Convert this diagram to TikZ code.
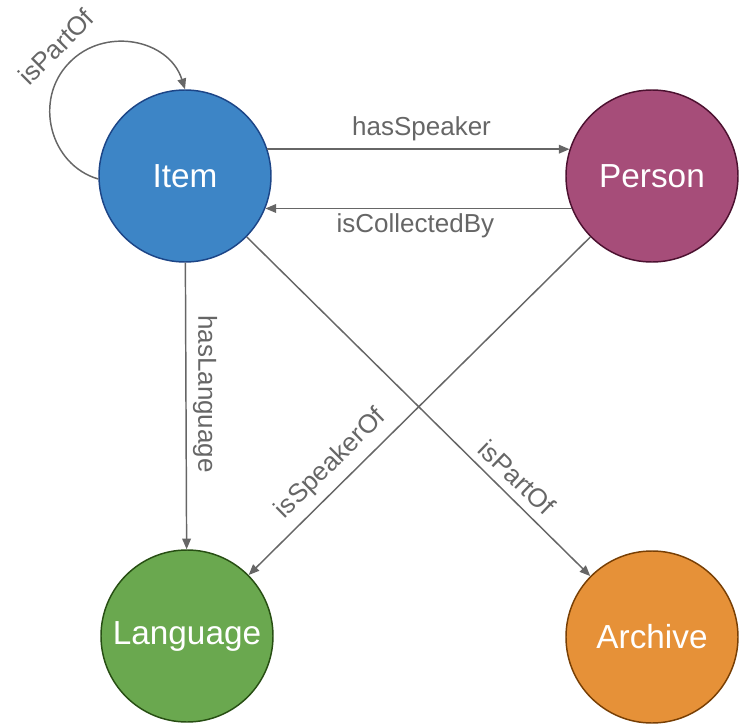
\documentclass[tikz,border=0pt]{standalone}
\usepackage{fontspec}
\setmainfont{Liberation Sans}
\usetikzlibrary{arrows.meta}

\definecolor{itemfill}{HTML}{3D85C6}
\definecolor{itemline}{HTML}{1C4587}
\definecolor{personfill}{HTML}{A64D79}
\definecolor{personline}{HTML}{4C1130}
\definecolor{langfill}{HTML}{6AA84F}
\definecolor{langline}{HTML}{274E13}
\definecolor{archfill}{HTML}{E69138}
\definecolor{archline}{HTML}{783F04}
\definecolor{relgrey}{HTML}{666666}

\tikzset{
  concept/.style={circle, draw, line width=1.1pt, minimum size=129pt, inner sep=0pt,
    text=white, font=\fontsize{25}{30}\selectfont},
  rel/.style={draw=relgrey, line width=1.1pt, -{Triangle[length=8pt,width=6.5pt]}},
  rellabel/.style={text=relgrey, font=\fontsize{19.5}{23}\selectfont, inner sep=2pt},
}

\begin{document}
\begin{tikzpicture}[x=0.75pt,y=0.75pt,yscale=-1,xscale=1]
\useasboundingbox (0,0) rectangle (744,725);

% Concepts
\node [concept, fill=itemfill, draw=itemline] (Item) at (185,176) {Item};
\node [concept, fill=personfill, draw=personline] (Person) at (652,176) {Person};
\node [concept, fill=langfill, draw=langline] (Language) at (187,636) {Language};
\node [concept, fill=archfill, draw=archline] (Archive) at (652,637) {Archive};

%Curve Lines (loop on Item)
\coordinate (loopTop) at (69,63);
\draw [rel] (Item.182) .. controls (50,165) and (33,100) .. (loopTop) .. controls (104,26) and (169,39) .. (Item.north);

%Straight Lines
\draw [rel] (Item.18) -- node [rellabel, pos=0.51, above=3.5pt] {hasSpeaker} (Person.162);
\draw [rel] (Person.-158) -- node [rellabel, pos=0.51, below=1pt] {isCollectedBy} (Item.-22);
\draw [rel] (Item) -- (Language);
\draw [rel] (Person) -- (Language);
\draw [rel] (Item) -- (Archive);

% Text Node
\node [rellabel, rotate=45] (loopLabel) at (56,47) {isPartOf};
% Text Node
\node [rellabel, rotate=-90] (langLabel) at (205,394) {hasLanguage};
% Text Node
\node [rellabel, rotate=44.7] (speakerLabel) at (331,464) {isSpeakerOf};
% Text Node
\node [rellabel, rotate=-44] (archLabel) at (517,477) {isPartOf};

\end{tikzpicture}
\end{document}
